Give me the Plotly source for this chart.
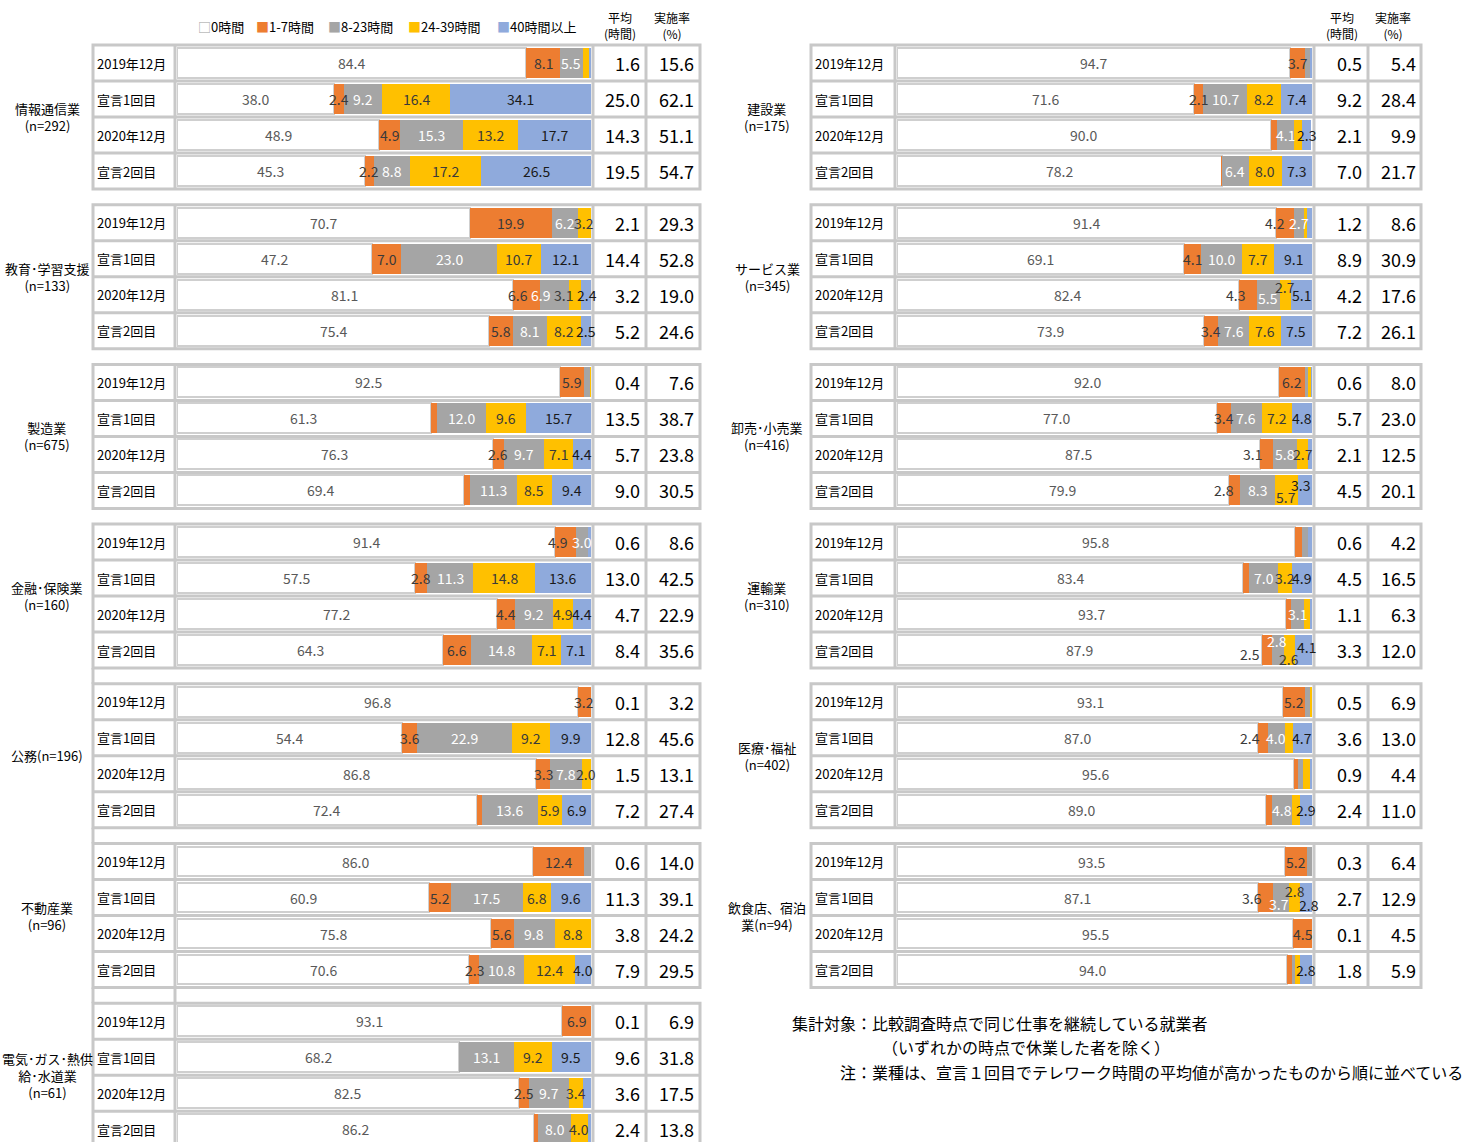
import plotly.graph_objects as go

W, H = 1478, 1142
FONT = "Noto Sans CJK JP"

categories = ["0時間", "1-7時間", "8-23時間", "24-39時間", "40時間以上"]
periods = ["2019年12月", "宣言1回目", "2020年12月", "宣言2回目"]

# ---------------- left column ----------------
info_name = "情報通信業<br>(n=292)"
info_shares = [[84.4, 8.1, 5.5, 1.6, 0.4], [38.0, 2.4, 9.2, 16.4, 34.1],
               [48.9, 4.9, 15.3, 13.2, 17.7], [45.3, 2.2, 8.8, 17.2, 26.5]]
info_avg = [1.6, 25.0, 14.3, 19.5]
info_rate = [15.6, 62.1, 51.1, 54.7]

edu_name = "教育･学習支援<br>(n=133)"
edu_shares = [[70.7, 19.9, 6.2, 3.2, 0.0], [47.2, 7.0, 23.0, 10.7, 12.1],
              [81.1, 6.6, 6.9, 3.1, 2.4], [75.4, 5.8, 8.1, 8.2, 2.5]]
edu_avg = [2.1, 14.4, 3.2, 5.2]
edu_rate = [29.3, 52.8, 19.0, 24.6]

mfg_name = "製造業<br>(n=675)"
mfg_shares = [[92.5, 5.9, 1.4, 0.2, 0.0], [61.3, 1.4, 12.0, 9.6, 15.7],
              [76.3, 2.6, 9.7, 7.1, 4.4], [69.4, 1.4, 11.3, 8.5, 9.4]]
mfg_avg = [0.4, 13.5, 5.7, 9.0]
mfg_rate = [7.6, 38.7, 23.8, 30.5]

fin_name = "金融･保険業<br>(n=160)"
fin_shares = [[91.4, 4.9, 3.0, 0.0, 0.7], [57.5, 2.8, 11.3, 14.8, 13.6],
              [77.2, 4.4, 9.2, 4.9, 4.4], [64.3, 6.6, 14.8, 7.1, 7.1]]
fin_avg = [0.6, 13.0, 4.7, 8.4]
fin_rate = [8.6, 42.5, 22.9, 35.6]

pub_name = "公務(n=196)"
pub_shares = [[96.8, 3.2, 0.0, 0.0, 0.0], [54.4, 3.6, 22.9, 9.2, 9.9],
              [86.8, 3.3, 7.8, 2.0, 0.0], [72.4, 1.2, 13.6, 5.9, 6.9]]
pub_avg = [0.1, 12.8, 1.5, 7.2]
pub_rate = [3.2, 45.6, 13.1, 27.4]

est_name = "不動産業<br>(n=96)"
est_shares = [[86.0, 12.4, 1.6, 0.0, 0.0], [60.9, 5.2, 17.5, 6.8, 9.6],
              [75.8, 5.6, 9.8, 8.8, 0.0], [70.6, 2.3, 10.8, 12.4, 4.0]]
est_avg = [0.6, 11.3, 3.8, 7.9]
est_rate = [14.0, 39.1, 24.2, 29.5]

util_name = "電気･ガス･熱供<br>給･水道業<br>(n=61)"
util_shares = [[93.1, 6.9, 0.0, 0.0, 0.0], [68.2, 0.0, 13.1, 9.2, 9.5],
               [82.5, 2.5, 9.7, 3.4, 1.9], [86.2, 1.0, 8.0, 4.0, 0.8]]
util_avg = [0.1, 9.6, 3.6, 2.4]
util_rate = [6.9, 31.8, 17.5, 13.8]

# ---------------- right column ----------------
con_name = "建設業<br>(n=175)"
con_shares = [[94.7, 3.7, 1.0, 0.0, 0.6], [71.6, 2.1, 10.7, 8.2, 7.4],
              [90.0, 1.6, 4.1, 1.8, 2.3], [78.2, 0.1, 6.4, 8.0, 7.3]]
con_avg = [0.5, 9.2, 2.1, 7.0]
con_rate = [5.4, 28.4, 9.9, 21.7]

svc_name = "サービス業<br>(n=345)"
svc_shares = [[91.4, 4.2, 2.7, 0.4, 1.3], [69.1, 4.1, 10.0, 7.7, 9.1],
              [82.4, 4.3, 5.5, 2.7, 5.1], [73.9, 3.4, 7.6, 7.6, 7.5]]
svc_avg = [1.2, 8.9, 4.2, 7.2]
svc_rate = [8.6, 30.9, 17.6, 26.1]

ret_name = "卸売･小売業<br>(n=416)"
ret_shares = [[92.0, 6.2, 0.8, 0.8, 0.2], [77.0, 3.4, 7.6, 7.2, 4.8],
              [87.5, 3.1, 5.8, 2.7, 0.9], [79.9, 2.8, 8.3, 5.7, 3.3]]
ret_avg = [0.6, 5.7, 2.1, 4.5]
ret_rate = [8.0, 23.0, 12.5, 20.1]

trn_name = "運輸業<br>(n=310)"
trn_shares = [[95.8, 1.7, 1.5, 0.0, 1.0], [83.4, 1.5, 7.0, 3.2, 4.9],
              [93.7, 1.2, 3.1, 1.5, 0.5], [87.9, 2.5, 2.8, 2.6, 4.1]]
trn_avg = [0.6, 4.5, 1.1, 3.3]
trn_rate = [4.2, 16.5, 6.3, 12.0]

med_name = "医療･福祉<br>(n=402)"
med_shares = [[93.1, 5.2, 1.2, 0.5, 0.0], [87.0, 2.4, 4.0, 1.9, 4.7],
              [95.6, 1.0, 1.3, 1.5, 0.6], [89.0, 1.4, 4.8, 1.9, 2.9]]
med_avg = [0.5, 3.6, 0.9, 2.4]
med_rate = [6.9, 13.0, 4.4, 11.0]

food_name = "飲食店、宿泊<br>業(n=94)"
food_shares = [[93.5, 5.2, 1.3, 0.0, 0.0], [87.1, 3.6, 3.7, 2.8, 2.8],
               [95.5, 4.5, 0.0, 0.0, 0.0], [94.0, 1.1, 0.9, 1.2, 2.8]]
food_avg = [0.3, 2.7, 0.1, 1.8]
food_rate = [6.4, 12.9, 4.5, 5.9]

left_panels = [
    (info_name, info_shares, info_avg, info_rate),
    (edu_name, edu_shares, edu_avg, edu_rate),
    (mfg_name, mfg_shares, mfg_avg, mfg_rate),
    (fin_name, fin_shares, fin_avg, fin_rate),
    (pub_name, pub_shares, pub_avg, pub_rate),
    (est_name, est_shares, est_avg, est_rate),
    (util_name, util_shares, util_avg, util_rate),
]
right_panels = [
    (con_name, con_shares, con_avg, con_rate),
    (svc_name, svc_shares, svc_avg, svc_rate),
    (ret_name, ret_shares, ret_avg, ret_rate),
    (trn_name, trn_shares, trn_avg, trn_rate),
    (med_name, med_shares, med_avg, med_rate),
    (food_name, food_shares, food_avg, food_rate),
]

# ---------------- styling / layout geometry ----------------
bar_colors = ["#FFFFFF", "#ED7D31", "#A5A5A5", "#FFC000", "#8FAADC"]
label_colors = ["#595959", "#3a3a3a", "#FFFFFF", "#3a3a3a", "#1a1a1a"]
legend_marks = ["□", "■", "■", "■", "■"]
legend_mark_colors = ["#A0A0A0", "#ED7D31", "#A5A5A5", "#FFC000", "#8FAADC"]
legend_x = [196, 254, 326, 406, 495]
border = "#C8C8C8"

ROW_PX = 36.0
PANEL_PX = 159.7
TOP_PX = 45.0
FIRST_CENTER = TOP_PX + ROW_PX / 2
SLOT = PANEL_PX / ROW_PX

cols = [
    dict(axis="x", name_x=47, lab_x=95, c0=93, c1=175, c2=593, c3=646, c4=700,
         avg_x=642, rate_x=696, dom=(177, 591), hdr=(620, 672)),
    dict(axis="x2", name_x=767, lab_x=813, c0=811, c1=895, c2=1314, c3=1368, c4=1421,
         avg_x=1364, rate_x=1418, dom=(897, 1312), hdr=(1342, 1393)),
]

# small label nudges (col, panel, row, category) -> (xshift, yshift)
nudges = {
    (0, 1, 2, 1): (-8, 0), (0, 1, 2, 2): (-13, 0), (0, 1, 2, 3): (-12, 0), (0, 1, 2, 4): (1, 0),
    (0, 3, 0, 1): (-8, 0),
    (1, 1, 0, 1): (-10, 0),
    (1, 1, 2, 1): (-12, 0), (1, 1, 2, 2): (0, -3), (1, 1, 2, 3): (0, 8),
    (1, 2, 2, 1): (-14, 0),
    (1, 2, 3, 1): (-10, 0), (1, 2, 3, 3): (0, -7), (1, 2, 3, 4): (-5, 5),
    (1, 3, 3, 1): (-17, -4), (1, 3, 3, 2): (-1, 9), (1, 3, 3, 3): (0, -9), (1, 3, 3, 4): (3, 3),
    (1, 4, 1, 1): (-13, 0),
    (1, 5, 1, 1): (-14, 0), (1, 5, 1, 2): (-2, -6), (1, 5, 1, 3): (0, 7), (1, 5, 1, 4): (3, -7),
}


def px_x(v):
    return v / W


def px_y(v):
    return 1 - v / H


fig = go.Figure()
annotations = []
shapes = []

for ci, (col, panels) in enumerate(zip(cols, [left_panels, right_panels])):
    ys = []
    vals = [[] for _ in categories]
    for p, (name, shares, avg, rate) in enumerate(panels):
        top = TOP_PX + p * PANEL_PX
        for r in range(4):
            y = p * SLOT + r
            ys.append(y)
            cum = 0.0
            for c in range(5):
                v = shares[r][c]
                vals[c].append(v)
                if v >= 2.0:
                    xs, ysh = nudges.get((ci, p, r, c), (0, 0))
                    annotations.append(dict(
                        x=cum + v / 2, y=y, xref=col["axis"], yref="y",
                        text=f"{v:.1f}", showarrow=False, xshift=xs, yshift=ysh,
                        font=dict(size=14, color=label_colors[c], family=FONT)))
                cum += v
            annotations.append(dict(x=px_x(col["lab_x"]), y=y, xref="paper", yref="y",
                                    text=periods[r], showarrow=False, xanchor="left",
                                    font=dict(size=13, color="#000000", family=FONT)))
            annotations.append(dict(x=px_x(col["avg_x"]), y=y, xref="paper", yref="y",
                                    text=f"{avg[r]:.1f}", showarrow=False, xanchor="right",
                                    font=dict(size=18, color="#000000", family=FONT)))
            annotations.append(dict(x=px_x(col["rate_x"]), y=y, xref="paper", yref="y",
                                    text=f"{rate[r]:.1f}", showarrow=False, xanchor="right",
                                    font=dict(size=18, color="#000000", family=FONT)))
        # industry label
        annotations.append(dict(x=px_x(col["name_x"]), y=p * SLOT + 1.5, xref="paper", yref="y",
                                text=name, showarrow=False, xanchor="center", yanchor="middle",
                                font=dict(size=13, color="#000000", family=FONT)))
        # table borders
        bottom = top + 4 * ROW_PX
        shapes.append(dict(type="rect", xref="paper", yref="paper",
                           x0=px_x(col["c0"]), x1=px_x(col["c4"]),
                           y0=px_y(bottom), y1=px_y(top),
                           line=dict(color=border, width=3), layer="above"))
        for xv in (col["c1"], col["c2"], col["c3"]):
            shapes.append(dict(type="line", xref="paper", yref="paper",
                               x0=px_x(xv), x1=px_x(xv), y0=px_y(bottom), y1=px_y(top),
                               line=dict(color=border, width=3), layer="above"))
        for r in range(1, 4):
            yy = top + r * ROW_PX
            shapes.append(dict(type="line", xref="paper", yref="paper",
                               x0=px_x(col["c0"]), x1=px_x(col["c4"]),
                               y0=px_y(yy), y1=px_y(yy),
                               line=dict(color=border, width=3), layer="above"))

    for c in range(5):
        fig.add_trace(go.Bar(
            x=vals[c], y=ys, orientation="h", name=categories[c],
            xaxis=col["axis"], yaxis="y", width=0.83,
            marker=dict(color=bar_colors[c],
                        line=dict(color="#CFCFCF" if c == 0 else bar_colors[c],
                                  width=2 if c == 0 else 0)),
            showlegend=False, legendgroup=categories[c], hoverinfo="skip"))

    # column headers
    for hx, htxt in zip(col["hdr"], ["平均<br>(時間)", "実施率<br>(%)"]):
        annotations.append(dict(x=px_x(hx), y=px_y(26), xref="paper", yref="paper",
                                text=htxt, showarrow=False, xanchor="center", yanchor="middle",
                                font=dict(size=12, color="#000000", family=FONT)))

# legend (drawn as text with coloured squares)
for c in range(5):
    annotations.append(dict(
        x=px_x(legend_x[c]), y=px_y(27), xref="paper", yref="paper",
        text=f'<span style="color:{legend_mark_colors[c]}">{legend_marks[c]}</span>{categories[c]}',
        showarrow=False, xanchor="left", yanchor="middle",
        font=dict(size=13, color="#000000", family=FONT)))

# connector lines in gaps of the left column
for p_gap, xs_list in [(3, [93]), (4, [93]), (5, [93, 175])]:
    y_a = TOP_PX + p_gap * PANEL_PX + 4 * ROW_PX
    y_b = TOP_PX + (p_gap + 1) * PANEL_PX
    for xv in xs_list:
        shapes.append(dict(type="line", xref="paper", yref="paper",
                           x0=px_x(xv), x1=px_x(xv), y0=px_y(y_b), y1=px_y(y_a),
                           line=dict(color=border, width=3), layer="above"))

# notes
notes = [
    (790, 1023, "集計対象：比較調査時点で同じ仕事を継続している就業者"),
    (880, 1047, "（いずれかの時点で休業した者を除く）"),
    (838, 1072, "注：業種は、宣言１回目でテレワーク時間の平均値が高かったものから順に並べている"),
]
for xv, yv, t in notes:
    annotations.append(dict(x=px_x(xv), y=px_y(yv), xref="paper", yref="paper", text=t,
                            showarrow=False, xanchor="left", yanchor="middle",
                            font=dict(size=16, color="#000000", family=FONT)))

y_bottom = (H - FIRST_CENTER) / ROW_PX
y_top = -FIRST_CENTER / ROW_PX

fig.update_layout(
    width=W, height=H, margin=dict(l=0, r=0, t=0, b=0),
    paper_bgcolor="#FFFFFF", plot_bgcolor="rgba(0,0,0,0)",
    barmode="stack", bargap=0,
    font=dict(family=FONT, color="#000000"),
    xaxis=dict(domain=[px_x(cols[0]["dom"][0]), px_x(cols[0]["dom"][1])], range=[0, 100],
               visible=False, fixedrange=True),
    xaxis2=dict(domain=[px_x(cols[1]["dom"][0]), px_x(cols[1]["dom"][1])], range=[0, 100],
                visible=False, anchor="y", fixedrange=True),
    yaxis=dict(domain=[0, 1], range=[y_bottom, y_top], autorange=False, visible=False,
               fixedrange=True),
    showlegend=False,
    annotations=annotations,
    shapes=shapes,
)

fig.write_html("out.html")
